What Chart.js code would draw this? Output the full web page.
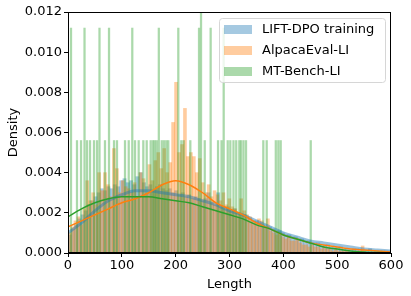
<!DOCTYPE html>
<html>
<head>
<meta charset="utf-8">
<script src="https://cdn.jsdelivr.net/npm/chart.js@4"></script>
<style>
  html, body { margin: 0; padding: 0; background: #fff; }
  #wrap { width: 411px; height: 296px; }
</style>
</head>
<body>
<div id="wrap"><canvas id="myChart"></canvas></div>
<script>
const seriesNames = ["LIFT-DPO training", "AlpacaEval-LI", "MT-Bench-LI"];
const xTicks = [0, 100, 200, 300, 400, 500, 600];

// LIFT-DPO training histogram, bins of width 6 starting at 0
const blueBinWidth = 6;
const blueDensity = [
  0.0009, 0.0012, 0.0014, 0.0017, 0.0019, 0.0021, 0.0024, 0.0026, 0.0028, 0.0030,
  0.0032, 0.0031, 0.0033, 0.0032, 0.0034, 0.0033, 0.0036, 0.0037, 0.0035, 0.0036,
  0.0034, 0.0038, 0.0040, 0.0035, 0.0033, 0.0034, 0.0031, 0.0033, 0.0034, 0.0032,
  0.0031, 0.0032, 0.0030, 0.0031, 0.0029, 0.0030, 0.0028, 0.0029, 0.0027, 0.0028,
  0.0027, 0.0026, 0.0027, 0.0030, 0.0025, 0.0024, 0.0030, 0.0023, 0.0022, 0.0023,
  0.0021, 0.0022, 0.0020, 0.0019, 0.0019, 0.0018, 0.0017, 0.0016, 0.0016, 0.0015,
  0.0014, 0.0013, 0.0013, 0.0012, 0.0011, 0.0011, 0.0010, 0.0009, 0.0009, 0.0008,
  0.0008, 0.0007, 0.0007, 0.0006, 0.0006, 0.0005, 0.0005, 0.0005, 0.0004, 0.0004,
  0.0004, 0.0003, 0.0003, 0.0003, 0.0003, 0.0002, 0.0002, 0.0002, 0.0002, 0.0002,
  0.0002, 0.0001, 0.0001, 0.0002, 0.0001, 0.0001, 0.0001, 0.0001, 0.0001, 0.0001
];

// AlpacaEval-LI histogram, bins of width 5.5 starting at 0
const orangeBinWidth = 5.5;
const orangeDensity = [
  0.0010, 0.0013, 0.0016, 0.0018, 0.0014, 0.0022, 0.0036, 0.0026, 0.0030, 0.0024,
  0.0040, 0.0031, 0.0040, 0.0034, 0.0028, 0.0052, 0.0042, 0.0030, 0.0036, 0.0033,
  0.0032, 0.0030, 0.0035, 0.0028, 0.0040, 0.0037, 0.0030, 0.0044, 0.0036, 0.0046,
  0.0050, 0.0042, 0.0052, 0.0040, 0.0045, 0.0065, 0.0085, 0.0050, 0.0054, 0.0072,
  0.0048, 0.0050, 0.0048, 0.0040, 0.0047, 0.0035, 0.0030, 0.0034, 0.0028, 0.0031,
  0.0029, 0.0026, 0.0030, 0.0024, 0.0027, 0.0023, 0.0022, 0.0020, 0.0027, 0.0021,
  0.0019, 0.0018, 0.0016, 0.0015, 0.0017, 0.0016, 0.0013, 0.0017, 0.0011, 0.0010,
  0.0009, 0.0010, 0.0008, 0.0007, 0.0008, 0.0006, 0.0006, 0.00065, 0.0005, 0.0004,
  0.0004, 0.0003, 0.0004, 0.0003, 0.0003, 0.0002, 0.0003, 0.0002, 0.0002, 0.0001,
  0.0002, 0.0001, 0.0001, 0.0001, 0.0001, 0, 0.0001, 0, 0, 0.00035
];

// MT-Bench-LI histogram: only the non-empty bins
const greenLength = [
  5.6, 16.7, 24.2, 30.7, 35.3, 40.9, 48.3, 53.9, 58.5, 68.7, 76.2, 85.5, 91.0,
  105.9, 112.8, 119.4, 124.5, 131.3, 139.9, 146.2, 153.6, 157.9, 161.1, 164.8,
  168.7, 174.1, 178.3, 182.6, 186.3, 204.9, 210.5, 214.9, 227.2, 243.4, 247.1,
  254.0, 265.0, 278.7, 285.2, 289.2, 296.7, 301.5, 307.4, 312.5, 318.2, 321.4,
  326.0, 330.7, 362.8, 369.1, 386.0, 390.7, 395.1, 450.9
];
const greenDensity = [
  0.0112, 0.0056, 0.0056, 0.0112, 0.0056, 0.0056, 0.0056, 0.0056, 0.0112, 0.0056, 0.0112, 0.0056, 0.0056,
  0.0056, 0.0056, 0.0112, 0.0056, 0.0056, 0.0056, 0.0056, 0.0056, 0.0056, 0.0056, 0.0056,
  0.0112, 0.0056, 0.0056, 0.0056, 0.0056, 0.0112, 0.0056, 0.0056, 0.0056, 0.0112, 0.0168,
  0.0056, 0.0112, 0.0056, 0.0056, 0.0112, 0.0056, 0.0056, 0.0056, 0.0056, 0.0056, 0.0056,
  0.0056, 0.0056, 0.0056, 0.0056, 0.0056, 0.0056, 0.0056, 0.0056
];

// KDE curves sampled every 25
const kdeLength = [0, 25, 50, 75, 100, 125, 150, 175, 200, 225, 250, 275, 300,
  325, 350, 375, 400, 425, 450, 475, 500, 525, 550, 575, 600];
const blueKde = [0.0010, 0.0015, 0.0021, 0.0026, 0.0029, 0.0031, 0.0031, 0.0030, 0.0029,
  0.0028, 0.0026, 0.0024, 0.0021, 0.0019, 0.0016, 0.0013, 0.0010, 0.0008, 0.0006,
  0.0005, 0.0004, 0.0003, 0.0002, 0.00015, 0.0001];
const orangeKde = [0.0013, 0.0016, 0.0019, 0.0022, 0.0025, 0.0027, 0.0030, 0.0034, 0.0036,
  0.0034, 0.0030, 0.0025, 0.0022, 0.0019, 0.0015, 0.0012, 0.0009, 0.0007, 0.0005,
  0.0004, 0.0003, 0.0002, 0.00015, 0.0001, 0.00005];
const greenKde = [0.0018, 0.0022, 0.0025, 0.0027, 0.0028, 0.0028, 0.0028, 0.0027, 0.0026,
  0.0025, 0.0023, 0.0021, 0.0019, 0.0017, 0.0014, 0.0012, 0.0009, 0.0007, 0.0005,
  0.0003, 0.0002, 0.0001, 0.00005, 0.00002, 0];

const blue = "#1f77b4", orange = "#ff7f0e", green = "#2ca02c";
const blueFill = "rgba(31,119,180,0.4)";
const orangeFill = "rgba(255,127,14,0.4)";
const greenFill = "rgba(44,160,44,0.4)";

const histPoints = (vals, w) => vals.map((v, i) => ({x: i * w + w / 2, y: v}));
const pairs = (xs, ys) => xs.map((x, i) => ({x, y: ys[i]}));

const font = {family: "DejaVu Sans", size: 13};

const frame = {
  id: "frame",
  afterDraw(chart) {
    const {ctx, chartArea: a} = chart;
    ctx.save();
    ctx.strokeStyle = "#000";
    ctx.lineWidth = 1;
    ctx.strokeRect(a.left + 0.5, a.top + 0.5, a.right - a.left - 1, a.bottom - a.top - 1);
    ctx.restore();
  }
};

const histLegend = {
  id: "histLegend",
  afterDatasetsDraw(chart) {
    const {ctx, chartArea: a} = chart;
    const w = 166, h = 64;
    const x0 = a.right - 6 - w, y0 = a.top + 6;
    ctx.save();
    ctx.fillStyle = "rgba(255,255,255,0.8)";
    ctx.strokeStyle = "#d6d6d6";
    ctx.lineWidth = 1;
    ctx.beginPath();
    ctx.roundRect(x0 + 0.5, y0 + 0.5, w, h, 3);
    ctx.fill();
    ctx.stroke();
    const fills = [blueFill, orangeFill, greenFill];
    ctx.font = "13px 'DejaVu Sans'";
    ctx.textBaseline = "middle";
    seriesNames.forEach((name, i) => {
      const cy = y0 + 11.5 + i * 21;
      ctx.fillStyle = fills[i];
      ctx.fillRect(x0 + 5, cy - 4.5, 28, 9);
      ctx.fillStyle = "#000";
      ctx.fillText(name, x0 + 43, cy + 0.5);
    });
    ctx.restore();
  }
};

const hiddenX = {type: "linear", min: 0, max: 600, display: false, offset: false};

new Chart(document.getElementById("myChart"), {
  type: "bar",
  data: {
    datasets: [
      {type: "line", data: pairs(kdeLength, greenKde), xAxisID: "x", borderColor: green,
        borderWidth: 1.5, pointRadius: 0, cubicInterpolationMode: "monotone", order: 0},
      {type: "line", data: pairs(kdeLength, orangeKde), xAxisID: "x", borderColor: orange,
        borderWidth: 1.5, pointRadius: 0, cubicInterpolationMode: "monotone", order: 1},
      {type: "line", data: pairs(kdeLength, blueKde), xAxisID: "x", borderColor: "rgba(31,119,180,0.45)",
        borderWidth: 3, pointRadius: 0, cubicInterpolationMode: "monotone", order: 2},
      {label: seriesNames[2], data: pairs(greenLength, greenDensity), xAxisID: "xg",
        backgroundColor: greenFill, barThickness: 1.6, order: 3},
      {label: seriesNames[1], data: histPoints(orangeDensity, orangeBinWidth), xAxisID: "xo",
        backgroundColor: orangeFill, order: 4},
      {label: seriesNames[0], data: histPoints(blueDensity, blueBinWidth), xAxisID: "x",
        backgroundColor: blueFill, order: 5}
    ]
  },
  options: {
    responsive: true,
    maintainAspectRatio: false,
    animation: false,
    layout: {padding: {top: 12, right: 20, left: 0, bottom: 0}},
    datasets: {bar: {grouped: false, categoryPercentage: 1, barPercentage: 1, borderWidth: 0}},
    plugins: {legend: {display: false}, tooltip: {enabled: false}},
    scales: {
      x: {
        type: "linear", min: 0, max: 600, offset: false,
        afterBuildTicks: s => { s.ticks = xTicks.map(v => ({value: v})); },
        ticks: {font, color: "#000", padding: 1, maxRotation: 0},
        grid: {display: true, offset: false, drawOnChartArea: false, drawTicks: true, tickLength: 4, color: "#000"},
        border: {color: "#000"},
        title: {display: true, text: "Length", font, color: "#000", padding: {top: 1, bottom: 4}},
        afterFit: s => { s.height = 43; }
      },
      xo: hiddenX,
      xg: hiddenX,
      y: {
        min: 0, max: 0.012,
        ticks: {stepSize: 0.002, font, color: "#000", padding: 2, callback: v => v.toFixed(3)},
        grid: {display: true, drawOnChartArea: false, drawTicks: true, tickLength: 4, color: "#000"},
        border: {color: "#000"},
        title: {display: true, text: "Density", font, color: "#000", padding: {top: 6, bottom: 0}},
        afterFit: s => { s.width = 68; }
      }
    }
  },
  plugins: [histLegend, frame]
});
</script>
</body>
</html>
